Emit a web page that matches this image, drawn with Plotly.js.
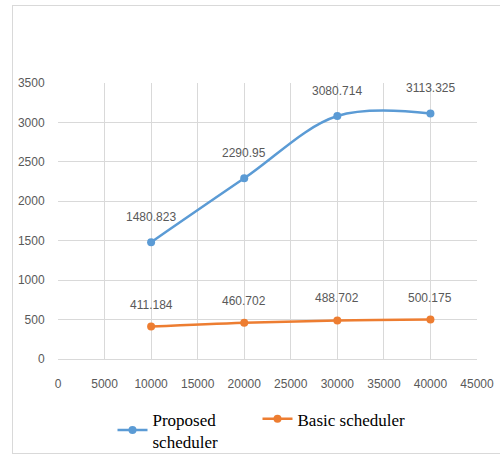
<!DOCTYPE html>
<html>
<head>
<meta charset="utf-8">
<script src="https://cdn.plot.ly/plotly-3.0.1.min.js"></script>
<style>
html,body{margin:0;padding:0;background:#fff;overflow:hidden;}
#wrap{position:relative;width:500px;height:455px;overflow:hidden;}
#chart{width:500px;height:455px;}
#frame{position:absolute;left:12px;top:5px;width:520px;height:447px;border:1px solid #d9d9d9;border-right:none;pointer-events:none;}
</style>
</head>
<body>
<div id="wrap"><div id="chart"></div><div id="frame"></div></div>
<script>
const xValues = [10000, 20000, 30000, 40000];
const proposed = [1480.823, 2290.95, 3080.714, 3113.325];
const basic = [411.184, 460.702, 488.702, 500.175];
const proposedLabels = ["1480.823", "2290.95", "3080.714", "3113.325"];
const basicLabels = ["411.184", "460.702", "488.702", "500.175"];
const seriesNames = ["Proposed<br>scheduler", "Basic scheduler"];

const tickFont = {family: "Liberation Sans, Arial, sans-serif", size: 12, color: "#595959"};

const traces = [
  {x: xValues, y: proposed, name: seriesNames[0], type: "scatter", mode: "lines+markers", legendwidth: 100,
   line: {color: "#5b9bd5", width: 2.5, shape: "spline", smoothing: 1},
   marker: {color: "#5b9bd5", size: 8}},
  {x: xValues, y: basic, name: seriesNames[1], type: "scatter", mode: "lines+markers", legendwidth: 130,
   line: {color: "#ed7d31", width: 2.5, shape: "spline", smoothing: 1},
   marker: {color: "#ed7d31", size: 8}}
];

const annotations = [];
xValues.forEach((xv, i) => {
  annotations.push({x: xv, y: proposed[i], text: proposedLabels[i], showarrow: false, yshift: 25, font: tickFont});
  annotations.push({x: xv, y: basic[i], text: basicLabels[i], showarrow: false, yshift: 22, font: tickFont});
});

const layout = {
  width: 500, height: 455,
  margin: {l: 58, r: 23, t: 82.5, b: 96},
  paper_bgcolor: "#fff", plot_bgcolor: "#fff",
  showlegend: true,
  xaxis: {range: [0, 45000], dtick: 5000, tick0: 0, tickformat: "d", showgrid: true, gridcolor: "#d9d9d9", gridwidth: 1,
          zeroline: false, showline: true, linecolor: "#d9d9d9", linewidth: 1,
          ticks: "outside", ticklen: 14, tickcolor: "rgba(0,0,0,0)", tickfont: tickFont, fixedrange: true},
  yaxis: {range: [0, 3500], dtick: 500, tick0: 0, showgrid: true, gridcolor: "#d9d9d9", gridwidth: 1,
          zeroline: false, showline: false,
          ticks: "outside", ticklen: 10, tickcolor: "rgba(0,0,0,0)", tickfont: tickFont, fixedrange: true},
  legend: {orientation: "h", xref: "container", yref: "container", x: 0.225, xanchor: "left", y: 0.118, yanchor: "top",
           font: {family: "Liberation Serif, Times New Roman, serif", size: 17, color: "#000"},
           valign: "middle", bgcolor: "rgba(0,0,0,0)"},
  annotations: annotations
};

Plotly.newPlot("chart", traces, layout, {displayModeBar: false, staticPlot: true});
</script>
</body>
</html>
